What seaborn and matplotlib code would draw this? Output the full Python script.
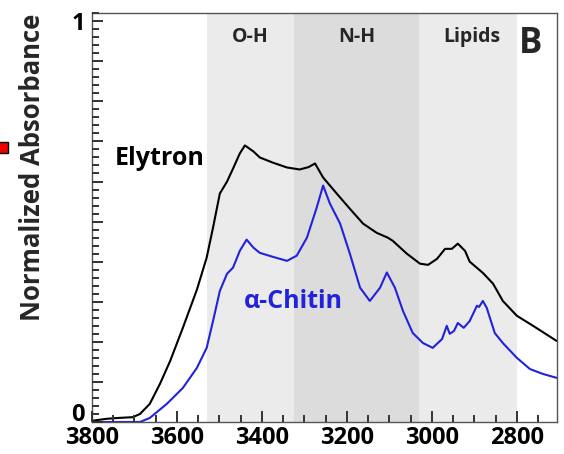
import matplotlib
matplotlib.use("Agg")
import matplotlib.pyplot as plt
import matplotlib.transforms as mtransforms
from matplotlib.patches import Rectangle
from matplotlib.ticker import MultipleLocator, FixedLocator
import seaborn as sns
import pandas as pd

elytron_wn = [3800, 3765, 3740, 3704, 3687, 3664, 3640, 3616, 3586, 3553, 3530, 3515, 3499, 3482,
              3468, 3452, 3440, 3420, 3405, 3374, 3341, 3311, 3290, 3275, 3256, 3224, 3193, 3162,
              3130, 3104, 3092, 3059, 3028, 3009, 2988, 2969, 2953, 2939, 2922, 2911, 2880, 2856,
              2833, 2800, 2762, 2706]
elytron_abs = [0.003, 0.008, 0.01, 0.012, 0.02, 0.045, 0.095, 0.152, 0.235, 0.33, 0.41, 0.485, 0.57, 0.60,
               0.632, 0.67, 0.69, 0.675, 0.66, 0.647, 0.635, 0.63, 0.636, 0.645, 0.61, 0.57, 0.532, 0.495,
               0.472, 0.46, 0.452, 0.42, 0.395, 0.392, 0.407, 0.432, 0.432, 0.445, 0.427, 0.40, 0.372, 0.345,
               0.302, 0.265, 0.24, 0.202]

chitin_wn = [3800, 3687, 3664, 3624, 3586, 3553, 3530, 3515, 3499, 3482, 3468, 3452, 3436, 3420,
             3405, 3374, 3341, 3318, 3294, 3271, 3256, 3240, 3216, 3193, 3169, 3146, 3122, 3106,
             3087, 3068, 3045, 3021, 2998, 2976, 2965, 2958, 2948, 2939, 2925, 2911, 2894, 2889,
             2880, 2871, 2852, 2833, 2800, 2769, 2739, 2706]
chitin_abs = [0.0, 0.0, 0.01, 0.045, 0.085, 0.135, 0.185, 0.252, 0.327, 0.37, 0.385, 0.427, 0.455, 0.435,
              0.422, 0.412, 0.402, 0.415, 0.46, 0.535, 0.59, 0.545, 0.495, 0.42, 0.335, 0.302, 0.335, 0.373,
              0.335, 0.277, 0.222, 0.197, 0.185, 0.207, 0.24, 0.22, 0.227, 0.247, 0.235, 0.252, 0.29, 0.287,
              0.302, 0.285, 0.222, 0.197, 0.16, 0.132, 0.12, 0.11]

regions = ["O-H", "N-H", "Lipids"]
region_start = [3530, 3325, 3030]
region_end = [3325, 3030, 2800]
region_colors = ["#ebebeb", "#dcdcdc", "#ebebeb"]

x_tick_labels = [3800, 3600, 3400, 3200, 3000, 2800]

sns.set_style("ticks")
plt.rcParams['font.family'] = ['Open Sans', 'DejaVu Sans']
plt.rcParams['font.weight'] = 'bold'
plt.rcParams['axes.axisbelow'] = False

fig = plt.figure(figsize=(5.64, 4.54), dpi=100)
ax = fig.add_axes([0.163, 0.0705, 0.825, 0.9005])
ax.set_axisbelow(False)

for s, e, c in zip(region_start, region_end, region_colors):
    ax.axvspan(e, s, color=c, lw=0, zorder=0)

df_e = pd.DataFrame({"wn": elytron_wn, "abs": elytron_abs})
df_c = pd.DataFrame({"wn": chitin_wn, "abs": chitin_abs})
sns.lineplot(data=df_e, x="wn", y="abs", color="black", lw=1.5, ax=ax, sort=False)
sns.lineplot(data=df_c, x="wn", y="abs", color="#2222dd", lw=1.5, ax=ax, sort=False)

ax.set_xlim(3800, 2705)
ax.set_ylim(0, 1.02)

ax.xaxis.set_major_locator(FixedLocator(x_tick_labels))
ax.xaxis.set_minor_locator(MultipleLocator(50))
ax.yaxis.set_major_locator(FixedLocator([i / 10 for i in range(11)]))
ax.yaxis.set_minor_locator(MultipleLocator(0.02))
ax.set_yticklabels(["0" if i == 0 else ("1" if i == 10 else "") for i in range(11)])
ax.set_xticklabels([str(v) for v in x_tick_labels])

ax.tick_params(axis="both", which="both", bottom=True, left=True, top=False, right=False,
               direction="in", colors="#333333")
ax.tick_params(axis="both", which="major", length=8, width=1.4, labelsize=17, labelcolor="black")
ax.tick_params(axis="x", which="major", pad=3)
ax.tick_params(axis="y", which="major", pad=5)
ax.tick_params(axis="both", which="minor", length=5, width=1.4)
for lab in ax.get_xticklabels() + ax.get_yticklabels():
    lab.set_fontweight("bold")

# lift the "0" label slightly, as in the reference
zero_lab = ax.get_yticklabels()[0]
zero_lab.set_transform(zero_lab.get_transform() +
                       mtransforms.ScaledTranslation(0, 7 / 72, fig.dpi_scale_trans))

for sp in ax.spines.values():
    sp.set_visible(True)
    sp.set_color("#555555")
    sp.set_linewidth(1)

ax.set_xlabel("")
ax.set_ylabel("Normalized Absorbance", fontsize=18.5, fontweight="bold")
ax.yaxis.set_label_coords(-0.098, 0.623)

label_x = [3428, 3176, 2906]
for name, xx in zip(regions, label_x):
    ax.text(xx, 0.96, name, ha="center", va="center", fontsize=14, fontweight="bold")
ax.text(2767, 0.943, "B", ha="center", va="center", fontsize=25, fontweight="bold")
ax.text(3640, 0.657, "Elytron", ha="center", va="center", fontsize=18, fontweight="bold", color="black")
ax.text(3327, 0.30, "α-Chitin", ha="center", va="center", fontsize=18, fontweight="bold", color="#2222dd")

fig.patches.append(Rectangle((-0.005, (454 - 153) / 454), 0.019, 11 / 454, transform=fig.transFigure,
                             facecolor="#ee0000", edgecolor="black", lw=1))

fig.savefig("out.png", dpi=100)
